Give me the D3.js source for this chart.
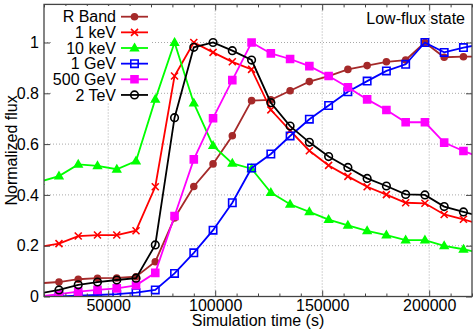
<!DOCTYPE html>
<html>
<head>
<meta charset="utf-8">
<script src="https://cdn.jsdelivr.net/npm/d3@7"></script>
<style>
  body { margin: 0; background: #fff; }
  text { font-family: "Liberation Sans", Arial, sans-serif; }
</style>
</head>
<body>
<div id="chart"></div>
<script>
// simulation time (s), one point every 9000 s (first and last are clipped by the axes)
const times = [18000, 27000, 36000, 45000, 54000, 63000, 72000, 81000, 90000, 99000,
  108000, 117000, 126000, 135000, 144000, 153000, 162000, 171000, 180000, 189000,
  198000, 207000, 216000, 225000];

const rBand = [0.052, 0.057, 0.068, 0.072, 0.073, 0.078, 0.137, 0.309, 0.433, 0.522,
  0.633, 0.771, 0.774, 0.81, 0.846, 0.868, 0.894, 0.909, 0.924, 0.931,
  1.0, 0.942, 0.944, 0.944];
const keV1 = [0.196, 0.208, 0.238, 0.242, 0.242, 0.259, 0.432, 0.868, 1.0, 0.961,
  0.924, 0.894, 0.735, 0.653, 0.574, 0.516, 0.473, 0.432, 0.401, 0.369,
  0.367, 0.323, 0.304, 0.281];
const keV10 = [0.452, 0.474, 0.52, 0.514, 0.501, 0.533, 0.776, 1.0, 0.761, 0.594,
  0.524, 0.503, 0.409, 0.363, 0.333, 0.303, 0.28, 0.258, 0.242, 0.222,
  0.222, 0.199, 0.186, 0.17];
const geV1 = [0.0, 0.0, 0.003, 0.006, 0.009, 0.015, 0.026, 0.091, 0.172, 0.261,
  0.369, 0.506, 0.561, 0.632, 0.698, 0.752, 0.806, 0.848, 0.888, 0.914,
  1.0, 0.961, 0.98, 0.994];
const geV500 = [0.0, 0.009, 0.019, 0.026, 0.032, 0.044, 0.093, 0.317, 0.54, 0.702,
  0.852, 1.0, 0.957, 0.935, 0.907, 0.868, 0.824, 0.776, 0.734, 0.686,
  0.686, 0.606, 0.573, 0.544];
const teV2 = [0.012, 0.026, 0.046, 0.057, 0.065, 0.072, 0.203, 0.704, 0.981, 1.0,
  0.968, 0.931, 0.763, 0.671, 0.607, 0.551, 0.508, 0.465, 0.435, 0.402,
  0.4, 0.354, 0.333, 0.313];

const seriesNames = ['R Band', '1 keV', '10 keV', '1 GeV', '500 GeV', '2 TeV'];
const seriesValues = [rBand, keV1, keV10, geV1, geV500, teV2];

const xTicks = [50000, 100000, 150000, 200000];
const yTicks = [0, 0.2, 0.4, 0.6, 0.8, 1];

const width = 476;
const height = 332;
const margin = { top: 4.4, right: 4, bottom: 35.5, left: 44 };

const colors = ['#a52a2a', '#ff0000', '#00ff00', '#0000ff', '#ff00ff', '#000000'];
const markers = ['dot', 'cross', 'triangle', 'box', 'fbox', 'ring'];

function markerPath(type) {
  switch (type) {
    case 'dot': return 'M-3,0a3,3 0 1,0 6,0a3,3 0 1,0 -6,0';
    case 'cross': return 'M-3.5,-3.5L3.5,3.5M-3.5,3.5L3.5,-3.5';
    case 'triangle': return 'M0,-4L3.8,2.6L-3.8,2.6Z';
    case 'box': return 'M-3.7,-3.7H3.7V3.7H-3.7Z';
    case 'fbox': return 'M-3.5,-3.5H3.5V3.5H-3.5Z';
    case 'ring': return 'M-3.8,0a3.8,3.8 0 1,0 7.6,0a3.8,3.8 0 1,0 -7.6,0';
  }
}
const filled = { dot: true, cross: false, triangle: true, box: false, fbox: true, ring: false };

const svg = d3
  .select('#chart')
  .append('svg')
  .attr('width', width)
  .attr('height', height);

const xScale = d3
  .scaleLinear()
  .domain([20000, 220000])
  .range([margin.left, width - margin.right]);

const yScale = d3
  .scaleLinear()
  .domain([0, 1.15])
  .range([height - margin.bottom, margin.top]);

const x0 = margin.left, x1 = width - margin.right;
const y0 = height - margin.bottom, y1 = margin.top;

// grid
svg.append('g')
  .selectAll('line.gx')
  .data(xTicks)
  .enter()
  .append('line')
  .attr('x1', (d) => xScale(d)).attr('x2', (d) => xScale(d))
  .attr('y1', y0).attr('y2', y1)
  .attr('stroke', '#a8a8a8').attr('stroke-dasharray', '1,2');
svg.append('g')
  .selectAll('line.gy')
  .data(yTicks.filter((d) => d > 0))
  .enter()
  .append('line')
  .attr('x1', x0).attr('x2', x1)
  .attr('y1', (d) => yScale(d)).attr('y2', (d) => yScale(d))
  .attr('stroke', '#a8a8a8').attr('stroke-dasharray', '1,2');

// clip
svg.append('clipPath').attr('id', 'plotclip')
  .append('rect')
  .attr('x', x0).attr('y', y1)
  .attr('width', x1 - x0).attr('height', y0 - y1);

const plot = svg.append('g').attr('clip-path', 'url(#plotclip)');

const line = d3.line()
  .x((d, i) => xScale(times[i]))
  .y((d) => yScale(d));

seriesValues.forEach((vals, s) => {
  plot.append('path')
    .datum(vals)
    .attr('d', line)
    .attr('fill', 'none')
    .attr('stroke', colors[s])
    .attr('stroke-width', 1.8);

  plot.selectAll('path.m' + s)
    .data(vals)
    .enter()
    .append('path')
    .attr('class', 'm' + s)
    .attr('transform', (d, i) => `translate(${xScale(times[i])},${yScale(d)})`)
    .attr('d', markerPath(markers[s]))
    .attr('fill', filled[markers[s]] ? colors[s] : 'none')
    .attr('stroke', colors[s])
    .attr('stroke-width', 1.6);
});

// axes (ticks pointing inward, mirrored)
const minorX = d3.range(20000, 220001, 10000).filter((d) => !xTicks.includes(d));

function styleAxis(g) {
  g.select('.domain').remove();
  g.selectAll('line').attr('stroke', '#444');
  g.selectAll('text').style('font-size', '16px').attr('fill', '#000');
}

svg.append('g')
  .attr('transform', `translate(0,${y0})`)
  .call(d3.axisBottom(xScale).tickValues(xTicks).tickSize(-6).tickPadding(3).tickFormat(d3.format('d')))
  .call(styleAxis);
svg.append('g')
  .attr('transform', `translate(0,${y0})`)
  .call(d3.axisBottom(xScale).tickValues(minorX).tickSize(-3).tickFormat(''))
  .call(styleAxis);
svg.append('g')
  .attr('transform', `translate(0,${y1})`)
  .call(d3.axisTop(xScale).tickValues(xTicks).tickSize(-6).tickFormat(''))
  .call(styleAxis);
svg.append('g')
  .attr('transform', `translate(0,${y1})`)
  .call(d3.axisTop(xScale).tickValues(minorX).tickSize(-3).tickFormat(''))
  .call(styleAxis);
svg.append('g')
  .attr('transform', `translate(${x0},0)`)
  .call(d3.axisLeft(yScale).tickValues(yTicks).tickSize(-6).tickPadding(5).tickFormat(d3.format('~g')))
  .call(styleAxis);
svg.append('g')
  .attr('transform', `translate(${x1},0)`)
  .call(d3.axisRight(yScale).tickValues(yTicks).tickSize(-6).tickFormat(''))
  .call(styleAxis);

// border
svg.append('rect')
  .attr('x', x0).attr('y', y1)
  .attr('width', x1 - x0).attr('height', y0 - y1)
  .attr('fill', 'none')
  .attr('stroke', '#444')
  .attr('stroke-width', 1.3);

// legend (opaque key)
const legend = svg.append('g');
legend.append('rect')
  .attr('x', 51).attr('y', 6)
  .attr('width', 100).attr('height', 96)
  .attr('fill', '#fff');
seriesNames.forEach((name, s) => {
  const ly = 16.7 + s * 15.65;
  legend.append('text')
    .attr('x', 116).attr('y', ly)
    .attr('dy', '0.35em')
    .attr('text-anchor', 'end')
    .style('font-size', '16px')
    .text(name);
  legend.append('line')
    .attr('x1', 121).attr('x2', 148)
    .attr('y1', ly).attr('y2', ly)
    .attr('stroke', colors[s]).attr('stroke-width', 1.8);
  legend.append('path')
    .attr('transform', `translate(134.5,${ly})`)
    .attr('d', markerPath(markers[s]))
    .attr('fill', filled[markers[s]] ? colors[s] : 'none')
    .attr('stroke', colors[s])
    .attr('stroke-width', 1.6);
});

// labels
svg.append('text')
  .attr('x', 465).attr('y', 18.5)
  .attr('dy', '0.35em')
  .attr('text-anchor', 'end')
  .style('font-size', '16px')
  .text('Low-flux state');

svg.append('text')
  .attr('x', (x0 + x1) / 2).attr('y', 326)
  .attr('text-anchor', 'middle')
  .style('font-size', '16px')
  .text('Simulation time (s)');

svg.append('text')
  .attr('transform', `translate(17,${(y0 + y1) / 2}) rotate(-90)`)
  .attr('text-anchor', 'middle')
  .style('font-size', '16px')
  .text('Normalized flux');
</script>
</body>
</html>
